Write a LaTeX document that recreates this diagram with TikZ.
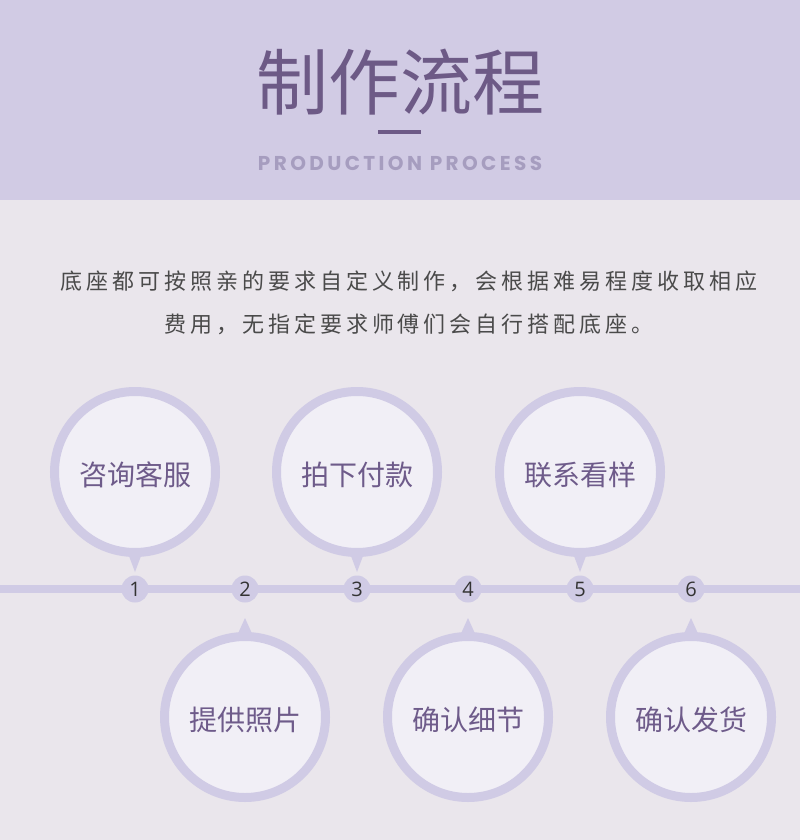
\documentclass[tikz,border=0pt]{standalone}
\usepackage{fontspec}
\newfontfamily\cjk{Noto Sans CJK SC}
\newfontfamily\cjkspaced{Noto Sans CJK SC}[LetterSpace=18]
\newfontfamily\numfont{Open Sans}
\newfontfamily\subfont{Poppins}[LetterSpace=17]
\definecolor{headbg}{HTML}{D1CBE4}
\definecolor{bodybg}{HTML}{EAE6EC}
\definecolor{ring}{HTML}{D0CBE5}
\definecolor{inner}{HTML}{F1EFF6}
\definecolor{titlec}{HTML}{6D5A86}
\definecolor{subc}{HTML}{A69DBF}
\definecolor{stepc}{HTML}{6E5B8A}
\definecolor{parac}{HTML}{4A4A4A}
\definecolor{numc}{HTML}{333333}
\tikzset{
  stepcircle/.style={circle, minimum size=161pt, inner sep=0pt, draw=ring, line width=9pt, fill=inner,
    text=stepc, font=\cjk\fontsize{28}{28}\selectfont},
  numdot/.style={circle, minimum size=27pt, inner sep=0pt, fill=ring, text=numc,
    font=\numfont\fontsize{20}{20}\selectfont},
  pointer/.style={fill=ring},
  timeline/.style={draw=ring, line width=8pt},
  paraline/.style={text=parac, font=\cjkspaced\fontsize{22}{22}\selectfont, inner sep=0pt}
}
\newcommand{\steptext}[1]{\leavevmode\vphantom{#1}\smash{\raisebox{-3pt}{#1}}}
\begin{document}
\begin{tikzpicture}[x=1pt,y=-1pt]
\fill[bodybg] (0,0) rectangle (800,840);
\fill[headbg] (0,0) rectangle (800,200);
\useasboundingbox (0,0) rectangle (800,840);
% header
\node[text=titlec, font=\cjk\fontsize{72}{72}\selectfont, inner sep=0pt] (title) at (400,82) {制作流程};
\fill[titlec] (378,130) rectangle (421,134);
\node[text=subc, font=\subfont\bfseries\fontsize{20}{20}\selectfont, inner sep=0pt] (sub) at (400,163) {PRODUCTION PROCESS};
% paragraph
\node[paraline] (p1) at (409,281) {底座都可按照亲的要求自定义制作，会根据难易程度收取相应};
\node[paraline] (p2) at (409,324) {费用，无指定要求师傅们会自行搭配底座。};
% timeline
\coordinate (tl) at (0,589);
\coordinate (tr) at (800,589);
\draw[timeline] (tl) -- (tr);
% pointers
\foreach \x in {135,357,580} {\fill[pointer] (\x-9,548) -- (\x+9,548) -- (\x,572) -- cycle;}
\foreach \x in {245,468,691} {\fill[pointer] (\x-9,638) -- (\x+9,638) -- (\x,618) -- cycle;}
% step circles
\node[stepcircle] (s1) at (135,472) {\steptext{咨询客服}};
\node[stepcircle] (s3) at (357,472) {\steptext{拍下付款}};
\node[stepcircle] (s5) at (580,472) {\steptext{联系看样}};
\node[stepcircle] (s2) at (245,717) {\steptext{提供照片}};
\node[stepcircle] (s4) at (468,717) {\steptext{确认细节}};
\node[stepcircle] (s6) at (691,717) {\steptext{确认发货}};
% numbers
\node[numdot] (n1) at (135,589) {1};
\node[numdot] (n2) at (245,589) {2};
\node[numdot] (n3) at (357,589) {3};
\node[numdot] (n4) at (468,589) {4};
\node[numdot] (n5) at (580,589) {5};
\node[numdot] (n6) at (691,589) {6};
\end{tikzpicture}
\end{document}
